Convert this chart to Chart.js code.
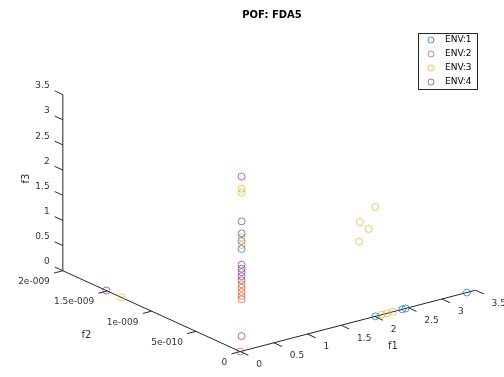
<!DOCTYPE html>
<html><head><meta charset="utf-8">
<script src="https://cdn.jsdelivr.net/npm/chart.js@4.4.0/dist/chart.umd.min.js"></script>
<style>html,body{margin:0;padding:0;background:#fff}#wrap{width:504px;height:377px;position:relative}</style>
</head><body><div id="wrap"><canvas id="c"></canvas></div>
<script>
// ---- data ----
const chartTitle = 'POF: FDA5';
const seriesNames = ['ENV:1', 'ENV:2', 'ENV:3', 'ENV:4'];
const seriesColors = ['rgba(0,114,189,0.7)', 'rgba(217,83,25,0.7)', 'rgba(237,177,32,0.75)', 'rgba(126,47,142,0.7)'];

const env1F1 = [2.01, 2.41, 2.46, 3.37, 0.02, 0.02];
const env1F2 = [0, 0, 0, 0, 0, 0];
const env1F3 = [0, 0, 0, 0, 2.34, 2.03];

const env2F1 = [0.02, 0.02, 0.02, 0.02, 0.02, 0];
const env2F2 = [0, 0, 0, 0, 0, 0];
const env2F3 = [1.33, 1.26, 1.18, 1.10, 1.03, 0];

const env3F1 = [0.02, 0.02, 0.02, 0.02, 2.01, 1.78, 1.91, 1.77, 2.10, 2.18, 2.27, 0];
const env3F2 = [0, 0, 0, 0, 0, 0, 0, 0, 0, 0, 0, 1.34e-9];
const env3F3 = [3.23, 3.15, 2.26, 2.11, 2.17, 1.95, 1.77, 1.57, 0, 0, 0, 0];

const env4F1 = [0.02, 0.02, 0.02, 0.02, 0.02, 0.02, 0.02, 0.02, 0.02, 0];
const env4F2 = [0, 0, 0, 0, 0, 0, 0, 0, 0, 1.51e-9];
const env4F3 = [3.47, 2.58, 2.19, 1.72, 1.64, 1.57, 1.49, 1.41, 0.30, 0];

const f1Ticks = [0, 0.5, 1, 1.5, 2, 2.5, 3, 3.5];
const f1TickLabels = ['0', '0.5', '1', '1.5', '2', '2.5', '3', '3.5'];
const f2Ticks = [0, 5e-10, 1e-9, 1.5e-9, 2e-9];
const f2TickLabels = ['0', '5e-010', '1e-009', '1.5e-009', '2e-009'];
const f3Ticks = [0, 0.5, 1, 1.5, 2, 2.5, 3, 3.5];
const f3TickLabels = ['0', '0.5', '1', '1.5', '2', '2.5', '3', '3.5'];
const axisRange = {f1: [0, 3.5], f2: [0, 2e-9], f3: [0, 3.5]};

// ---- view (orthographic projection of the 3-D box onto the plane) ----
const view = {ox: 240, oy: 356, e1: [68.6, -18], e2: [-90.5e9, -41.5e9], e3: [0, -51.7]};
function proj(a, b, c) {
  return {x: view.ox + a * view.e1[0] + b * view.e2[0] + c * view.e3[0],
          y: view.oy + a * view.e1[1] + b * view.e2[1] + c * view.e3[1]};
}
function buildPoints(F1, F2, F3) {
  const pts = [];
  const n = Math.min(F1.length, F2.length, F3.length);
  for (let i = 0; i < n; i++) pts.push(proj(F1[i], F2[i], F3[i]));
  return pts;
}
const seriesData = [
  buildPoints(env1F1, env1F2, env1F3),
  buildPoints(env2F1, env2F2, env2F3),
  buildPoints(env3F1, env3F2, env3F3),
  buildPoints(env4F1, env4F2, env4F3)
];

const FONT = '"DejaVu Sans", Verdana, sans-serif';

const axes3d = {
  id: 'axes3d',
  beforeDatasetsDraw(chart) {
    const ctx = chart.ctx, xs = chart.scales.x, ys = chart.scales.y;
    const P = (a, b, c) => { const p = proj(a, b, c); return [xs.getPixelForValue(p.x), ys.getPixelForValue(p.y)]; };
    const unit = (v) => { const l = Math.hypot(v[0], v[1]); return [v[0] / l, v[1] / l]; };
    const d1 = unit(view.e1), d2 = unit(view.e2);
    const TL = 9;
    const f2max = axisRange.f2[1];
    ctx.save();
    ctx.strokeStyle = '#262626';
    ctx.lineWidth = 1;
    ctx.fillStyle = '#333';
    const line = (p, q) => { ctx.beginPath(); ctx.moveTo(p[0], p[1]); ctx.lineTo(q[0], q[1]); ctx.stroke(); };
    // axis lines
    line(P(0, 0, 0), P(axisRange.f1[1], 0, 0));
    line(P(0, 0, 0), P(0, f2max, 0));
    line(P(0, f2max, 0), P(0, f2max, axisRange.f3[1]));
    ctx.font = '9px ' + FONT;
    ctx.textBaseline = 'middle';
    // f1 ticks (pointing along -f2)
    ctx.textAlign = 'left';
    f1Ticks.forEach((t, i) => {
      const p = P(t, 0, 0);
      line(p, [p[0] - d2[0] * TL, p[1] - d2[1] * TL]);
      ctx.fillText(f1TickLabels[i], p[0] + 16, p[1] + 13);
    });
    // f2 ticks (pointing along -f1)
    ctx.textAlign = 'right';
    f2Ticks.forEach((t, i) => {
      const p = P(0, t, 0);
      line(p, [p[0] - d1[0] * TL, p[1] - d1[1] * TL]);
      ctx.fillText(f2TickLabels[i], p[0] - 13, p[1] + 11);
    });
    // f3 ticks (pointing along +f2)
    f3Ticks.forEach((t, i) => {
      const p = P(0, f2max, t);
      const q = [p[0] + d2[0] * TL, p[1] + d2[1] * TL];
      line(p, q);
      ctx.fillText(f3TickLabels[i], q[0] - 5, q[1] - 5);
    });
    // axis titles
    ctx.font = '10px ' + FONT;
    ctx.textAlign = 'center';
    let m = P(axisRange.f1[1] / 2, 0, 0);
    ctx.fillText('f1', m[0] + 35, m[1] + 26);
    m = P(0, f2max / 2, 0);
    ctx.fillText('f2', m[0] - 65, m[1] + 24);
    m = P(0, f2max, axisRange.f3[1] / 2);
    ctx.save();
    ctx.translate(m[0] - 36, m[1] - 4);
    ctx.rotate(-Math.PI / 2);
    ctx.fillText('f3', 0, 0);
    ctx.restore();
    // title
    ctx.font = 'bold 10px ' + FONT;
    ctx.fillStyle = '#000';
    ctx.fillText(chartTitle, 272, 15);
    ctx.restore();
  },
  afterDraw(chart) {
    const ctx = chart.ctx;
    const bx = 418, by = 33, bw = 59, bh = 56;
    ctx.save();
    ctx.fillStyle = '#fff';
    ctx.fillRect(bx, by, bw, bh);
    ctx.strokeStyle = '#262626';
    ctx.lineWidth = 1;
    ctx.strokeRect(bx + 0.5, by + 0.5, bw, bh);
    ctx.font = '9px ' + FONT;
    ctx.textBaseline = 'middle';
    ctx.textAlign = 'left';
    chart.data.datasets.forEach((ds, i) => {
      const y = by + 7 + i * 14;
      ctx.beginPath();
      ctx.strokeStyle = ds.borderColor;
      ctx.arc(bx + 13, y, 3, 0, Math.PI * 2);
      ctx.stroke();
      ctx.fillStyle = '#000';
      ctx.fillText(ds.label, bx + 27, y);
    });
    ctx.restore();
  }
};

new Chart(document.getElementById('c'), {
  type: 'scatter',
  data: {
    datasets: seriesNames.map((name, i) => ({
      label: name,
      data: seriesData[i],
      borderColor: seriesColors[i],
      backgroundColor: 'rgba(0,0,0,0)',
      pointStyle: 'circle',
      pointRadius: 3.5,
      pointBorderWidth: 1,
      clip: false
    }))
  },
  options: {
    responsive: true,
    maintainAspectRatio: false,
    animation: false,
    layout: {padding: 0},
    plugins: {legend: {display: false}, title: {display: false}, tooltip: {enabled: false}},
    scales: {
      x: {type: 'linear', display: false, min: 0, max: 504},
      y: {type: 'linear', display: false, min: 0, max: 377, reverse: true}
    }
  },
  plugins: [axes3d]
});
</script></body></html>
